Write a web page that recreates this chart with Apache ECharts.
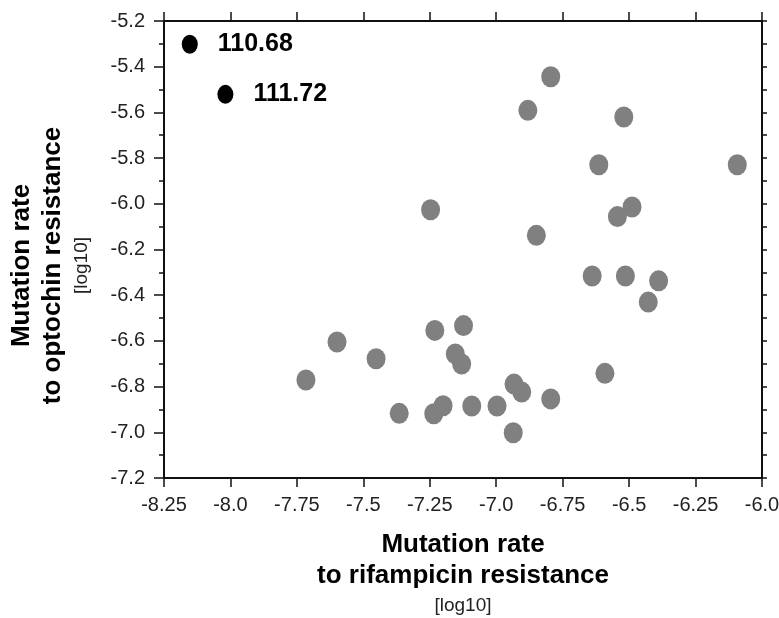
<!DOCTYPE html>
<html><head><meta charset="utf-8">
<script src="https://cdn.jsdelivr.net/npm/echarts@6/dist/echarts.min.js"></script>
<style>html,body{margin:0;padding:0;background:#fff}#c{width:779px;height:618px}</style>
</head><body><div id="c"></div>
<script>
// Mutation rate to rifampicin resistance [log10] (x) and to optochin resistance [log10] (y)
const rifampicinLog = [-7.247, -6.795, -6.881, -6.520, -6.614, -6.093, -6.489, -6.544, -6.849, -7.599,
  -7.716, -7.452, -7.231, -7.123, -7.154, -7.130, -7.365, -7.235, -7.200, -7.092,
  -6.997, -6.933, -6.936, -6.639, -6.514, -6.389, -6.428, -6.591, -6.904, -6.795];
const optochinLog = [-6.026, -5.444, -5.591, -5.620, -5.829, -5.829, -6.014, -6.056, -6.138, -6.605,
  -6.771, -6.678, -6.554, -6.533, -6.657, -6.701, -6.917, -6.919, -6.884, -6.885,
  -6.885, -6.789, -7.002, -6.316, -6.316, -6.337, -6.430, -6.742, -6.824, -6.854];
const labeledRifampicin = [-8.153, -8.019];
const labeledOptochin = [-5.302, -5.521];
const labeledNames = ['110.68', '111.72'];
const xTickLabels = ['-8.25', '-8.0', '-7.75', '-7.5', '-7.25', '-7.0', '-6.75', '-6.5', '-6.25', '-6.0'];
const yTickLabels = ['-7.2', '-7.0', '-6.8', '-6.6', '-6.4', '-6.2', '-6.0', '-5.8', '-5.6', '-5.4', '-5.2'];

const X_MIN = -8.25, X_MAX = -6.0, X_INT = 0.25;
const Y_MIN = -7.2, Y_MAX = -5.2, Y_INT = 0.2;
const FONT = "'Liberation Sans', Arial, sans-serif";

const grayData = rifampicinLog.map((x, i) => [x, optochinLog[i]]);
const blackData = labeledRifampicin.map((x, i) => ({ value: [x, labeledOptochin[i]], name: labeledNames[i] }));

const axisLineStyle = { color: '#111', width: 2 };

const chart = echarts.init(document.getElementById('c'), null, { renderer: 'canvas' });
chart.setOption({
  animation: false,
  backgroundColor: '#fff',
  grid: { left: 164, top: 21, width: 598, height: 457, containLabel: false, outerBoundsMode: 'none' },
  xAxis: [{
    type: 'value', position: 'bottom', min: X_MIN, max: X_MAX, interval: X_INT,
    axisLine: { show: true, onZero: false, lineStyle: axisLineStyle },
    axisTick: { show: true, length: 9, lineStyle: { color: '#111', width: 1.5 } },
    splitLine: { show: false },
    axisLabel: {
      margin: 17, fontSize: 20, color: '#222', fontFamily: FONT,
      formatter: v => xTickLabels[Math.round((v - X_MIN) / X_INT)]
    },
    name: 'Mutation rate\nto rifampicin resistance\n{s|[log10]}',
    nameLocation: 'middle', nameGap: 51,
    nameTextStyle: {
      fontSize: 26, fontWeight: 'bold', color: '#000', fontFamily: FONT, lineHeight: 31,
      rich: { s: { fontSize: 19, fontWeight: 'normal', color: '#222', fontFamily: FONT, lineHeight: 29 } }
    }
  }, {
    type: 'value', position: 'top', min: X_MIN, max: X_MAX, interval: X_INT,
    axisLine: { show: true, onZero: false, lineStyle: axisLineStyle },
    axisTick: { show: true, length: 9, lineStyle: { color: '#111', width: 1.5 } },
    splitLine: { show: false }, axisLabel: { show: false }
  }],
  yAxis: [{
    type: 'value', position: 'left', min: Y_MIN, max: Y_MAX, interval: Y_INT,
    axisLine: { show: true, onZero: false, lineStyle: axisLineStyle },
    axisTick: { show: true, length: 10, lineStyle: { color: '#111', width: 1.5 } },
    minorTick: { show: true, splitNumber: 2, length: 5, lineStyle: { color: '#111', width: 1.5 } },
    splitLine: { show: false },
    axisLabel: {
      margin: 19, fontSize: 20, color: '#222', fontFamily: FONT,
      formatter: v => yTickLabels[Math.round((v - Y_MIN) / Y_INT)]
    },
    name: 'Mutation rate\nto optochin resistance\n{s|[log10]}',
    nameLocation: 'middle', nameGap: 68, nameRotate: 90,
    nameTextStyle: {
      fontSize: 26, fontWeight: 'bold', color: '#000', fontFamily: FONT, lineHeight: 31,
      padding: [0, 32, 0, 0],
      rich: { s: { fontSize: 19, fontWeight: 'normal', color: '#222', fontFamily: FONT, lineHeight: 28 } }
    }
  }, {
    type: 'value', position: 'right', min: Y_MIN, max: Y_MAX, interval: Y_INT,
    axisLine: { show: true, onZero: false, lineStyle: axisLineStyle },
    axisTick: { show: true, length: 5, lineStyle: { color: '#111', width: 1.5 } },
    minorTick: { show: true, splitNumber: 2, length: 5, lineStyle: { color: '#111', width: 1.5 } },
    splitLine: { show: false }, axisLabel: { show: false }
  }],
  series: [{
    type: 'scatter', xAxisIndex: 0, yAxisIndex: 0,
    symbol: 'circle', symbolSize: [19, 21],
    itemStyle: { color: '#808080', opacity: 1 },
    data: grayData
  }, {
    type: 'scatter', xAxisIndex: 0, yAxisIndex: 0,
    symbol: 'circle', symbolSize: [16, 19],
    itemStyle: { color: '#000', opacity: 1 },
    label: {
      show: true, position: 'right', distance: 20,
      fontSize: 25, fontWeight: 'bold', color: '#000', fontFamily: FONT,
      formatter: p => p.name
    },
    data: blackData
  }]
});
</script></body></html>
